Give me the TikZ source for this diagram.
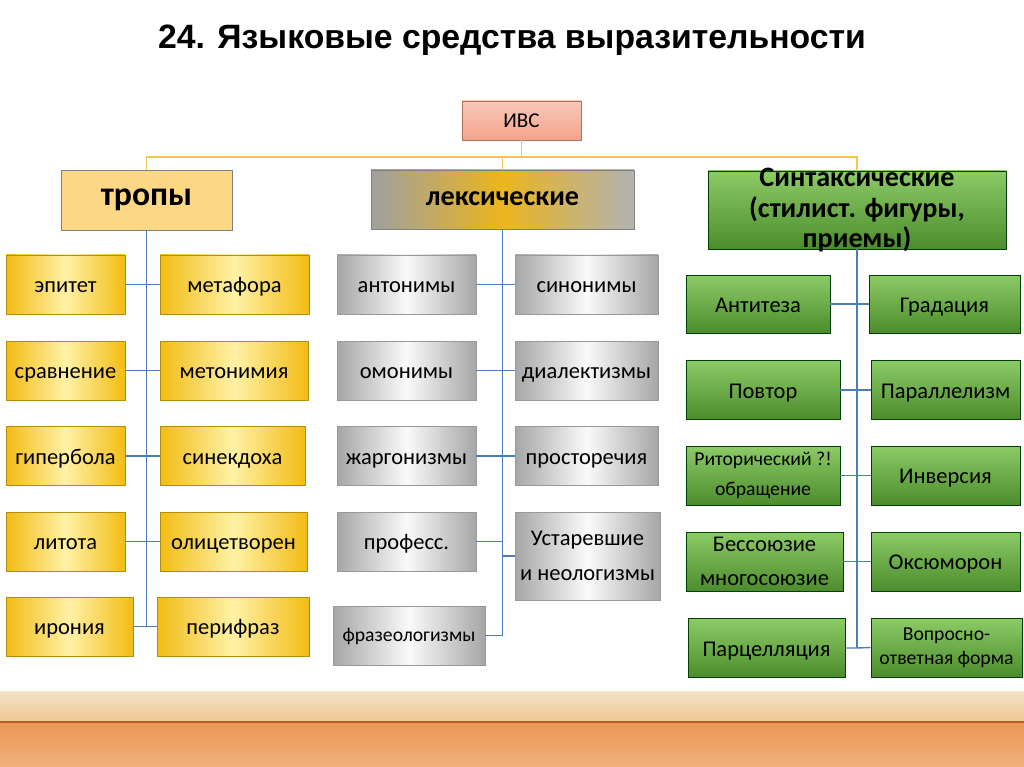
\documentclass[tikz,border=0pt]{standalone}
\usepackage{fontspec}
\setmainfont{Carlito}
\newfontfamily\titlefont{Liberation Sans}
\usetikzlibrary{positioning}

\definecolor{lineblue}{HTML}{4A7EBB}
\definecolor{lineyel}{HTML}{F2C84B}
\definecolor{yedge}{HTML}{F2BC14}
\definecolor{ymid}{HTML}{FFF1A6}
\definecolor{gedge}{HTML}{A6A6A6}
\definecolor{grtop}{HTML}{8CCB66}
\definecolor{grbot}{HTML}{4C8C2C}
\definecolor{salmon}{HTML}{F4A38A}
\definecolor{tropcol}{HTML}{FCD784}
\definecolor{lexgold}{HTML}{EBB51E}
\definecolor{floorlight}{HTML}{F4E3C6}
\definecolor{floortan}{HTML}{ECC690}
\definecolor{floordark}{HTML}{B0602A}
\definecolor{floororange}{HTML}{EC9752}

\def\pw{0.025cm}

\tikzset{
  box/.style={draw=#1, line width=0.6pt, inner sep=1pt,
    minimum height=59*\pw, font=\fontsize{16}{25}\selectfont},
  oneline/.style={text height=#1, text depth=0pt},
  oneline/.default=12pt,
  ybox/.style={box=yedge!75!black, oneline, left color=yedge, right color=yedge, middle color=ymid},
  gbox/.style={box=gray!80, oneline, left color=gedge, right color=gedge, middle color=white!96!gray},
  grbox/.style={box=green!25!black, oneline, top color=grtop, bottom color=grbot},
  twolines/.style={align=center, text height=, text depth=},
  blueline/.style={draw=lineblue, line width=1pt},
  yelline/.style={draw=lineyel, line width=1pt}
}

\begin{document}
\begin{tikzpicture}[x=0.025cm, y=-0.025cm]
  \useasboundingbox (0,0) rectangle (1024,767);

  % Title
  \node[font=\titlefont\bfseries\fontsize{24}{28}\selectfont] (title) at (512,40)
    {24. Языковые средства выразительности};

  % Floor at the bottom
  \fill[top color=floorlight, bottom color=floortan] (0,691) rectangle (1024,722);
  \fill[top color=floororange, bottom color=floororange!75!white] (0,722) rectangle (1024,767);
  \draw[floordark, line width=1.5pt] (0,722) -- (1024,722);

  % Top level
  \node[box=salmon!70!black, oneline=9.6pt, top color=salmon!60!white, bottom color=salmon,
    minimum width=119*\pw, minimum height=39*\pw, font=\fontsize{15}{18}\selectfont] (ivs) at (521.5,120.5) {ИВС};
  \node[box=gray, oneline=8.4pt, fill=tropcol, minimum width=171*\pw, minimum height=60*\pw,
    font=\bfseries\fontsize{24}{28}\selectfont] (tropy) at (146.5,200) {тропы};
  \node[box=gray, oneline=8pt, left color=gray!75, right color=gray!60, middle color=lexgold,
    minimum width=263*\pw, font=\bfseries\fontsize{20}{24}\selectfont] (lex) at (502.5,199.5) {лексические};
  \node[grbox, twolines, minimum width=298*\pw, minimum height=78*\pw, inner ysep=-6pt,
    font=\bfseries\fontsize{20}{22}\selectfont] (synt) at (857,210)
    {Синтаксические\\(стилист. фигуры,\\приемы)};

  % Yellow connectors
  \coordinate (bus) at (0,157);
  \draw[yelline] (ivs.south) -- (ivs.south |- bus);
  \draw[yelline] (tropy.north) -- (tropy.north |- bus) -| (synt.north);
  \draw[yelline] (lex.north) -- (lex.north |- bus);

  % Tropes
  \node[ybox, minimum width=119*\pw] (epitet) at (65.5,284.5) {эпитет};
  \node[ybox, minimum width=149*\pw] (metafora) at (234.5,284.5) {метафора};
  \node[ybox, minimum width=119*\pw] (sravn) at (65.5,370.5) {сравнение};
  \node[ybox, minimum width=148*\pw] (metonim) at (234,370.5) {метонимия};
  \node[ybox, minimum width=119*\pw] (giperb) at (65.5,456) {гипербола};
  \node[ybox, minimum width=145*\pw] (sinekd) at (232.5,456) {синекдоха};
  \node[ybox, minimum width=119*\pw] (litota) at (65.5,541.5) {литота};
  \node[ybox, minimum width=147*\pw] (olic) at (233.5,541.5) {олицетворен};
  \node[ybox, minimum width=127*\pw] (ironia) at (69.5,626.5) {ирония};
  \node[ybox, minimum width=152*\pw] (perifr) at (233,626.5) {перифраз};

  \draw[blueline] (tropy.south) -- (tropy.south |- ironia.east);
  \foreach \l/\r in {epitet/metafora, sravn/metonim, giperb/sinekd, litota/olic, ironia/perifr}
    \draw[blueline] (\l.east) -- (\r.west);

  % Lexical
  \node[gbox, minimum width=139*\pw] (anton) at (406.5,284.5) {антонимы};
  \node[gbox, minimum width=143*\pw] (sinon) at (586.5,284.5) {синонимы};
  \node[gbox, minimum width=139*\pw] (omon) at (406.5,370.5) {омонимы};
  \node[gbox, minimum width=143*\pw] (dial) at (586.5,370.5) {диалектизмы};
  \node[gbox, minimum width=139*\pw] (zharg) at (406.5,456) {жаргонизмы};
  \node[gbox, minimum width=143*\pw] (prost) at (586.5,456) {просторечия};
  \node[gbox, minimum width=139*\pw] (prof) at (406.5,541.5) {професс.};
  \node[gbox, twolines, minimum width=145*\pw, minimum height=88*\pw,
    font=\fontsize{16}{25}\selectfont] (ustar) at (587.5,556)
    {Устаревшие\\и неологизмы};
  \node[gbox, oneline=8pt, minimum width=152*\pw, font=\fontsize{14}{17}\selectfont] (fraz) at (409,635.5)
    {фразеологизмы};

  \draw[blueline] (lex.south) -- (lex.south |- fraz.east);
  \foreach \l/\r in {anton/sinon, omon/dial, zharg/prost}
    \draw[blueline] (\l.east) -- (\r.west);
  \draw[blueline] (prof.east) -- (prof.east -| lex.south);
  \draw[blueline] (ustar.west -| lex.south) -- (ustar.west);
  \draw[blueline] (fraz.east) -- (fraz.east -| lex.south);

  % Syntactic
  \node[grbox, minimum width=144*\pw, minimum height=58*\pw] (antit) at (758,304) {Антитеза};
  \node[grbox, minimum width=151*\pw, minimum height=58*\pw] (grad) at (944.5,304) {Градация};
  \node[grbox, minimum width=154*\pw] (povt) at (763,390) {Повтор};
  \node[grbox, minimum width=149*\pw] (paral) at (945.5,390) {Параллелизм};
  \node[grbox, twolines, minimum width=154*\pw, font=\fontsize{14}{21}\selectfont] (ritor) at (763,475.5)
    {Риторический ?!\\обращение};
  \node[grbox, minimum width=149*\pw] (inv) at (945.5,475.5) {Инверсия};
  \node[grbox, twolines, minimum width=157*\pw, font=\fontsize{16}{24}\selectfont] (bess) at (764.5,561.5)
    {Бессоюзие\\многосоюзие};
  \node[grbox, minimum width=149*\pw] (oks) at (945.5,561.5) {Оксюморон};
  \node[grbox, minimum width=157*\pw] (parc) at (766.5,648) {Парцелляция};
  \node[grbox, twolines, minimum width=151*\pw, font=\fontsize{14}{17}\selectfont] (vopr) at (946.5,647.5)
    {Вопросно-\\ответная форма};

  \draw[blueline] (synt.south) -- (synt.south |- parc.east);
  \foreach \l/\r in {antit/grad, povt/paral, ritor/inv, bess/oks}
    \draw[blueline] (\l.east) -- (\r.west);
  \draw[blueline] (parc.east) -- (parc.east -| synt.south) -- (vopr.west);
\end{tikzpicture}
\end{document}
